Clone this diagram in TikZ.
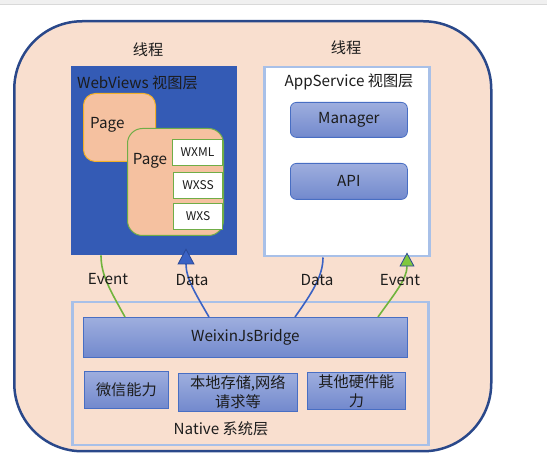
\documentclass[tikz,border=0pt]{standalone}
\usepackage{fontspec}
\setmainfont{Noto Sans CJK SC}
\usetikzlibrary{arrows.meta}
\definecolor{peach}{RGB}{249,223,207}
\definecolor{navyline}{RGB}{42,72,138}
\definecolor{webblue}{RGB}{52,91,181}
\definecolor{pagefill}{RGB}{245,193,160}
\definecolor{pageorange}{RGB}{242,176,40}
\definecolor{pagegreen}{RGB}{112,173,71}
\definecolor{paleblue}{RGB}{168,192,232}
\definecolor{boxtop}{RGB}{158,174,222}
\definecolor{boxbot}{RGB}{114,137,205}
\definecolor{boxline}{RGB}{72,110,195}
\definecolor{linkblue}{RGB}{58,98,196}
\definecolor{linkgreen}{RGB}{112,180,60}
\definecolor{tipgreen}{RGB}{128,200,62}
\definecolor{tipline}{RGB}{42,72,150}
\definecolor{ink}{RGB}{28,28,28}
\tikzset{
 txt/.style={text=ink, inner sep=0, font=\fontsize{15.2}{19}\selectfont},
 small/.style={text=ink, inner sep=0, font=\fontsize{12}{14}\selectfont},
 layer/.style={draw=paleblue, line width=2.5pt, anchor=north west, inner sep=0},
 page/.style={fill=pagefill, line width=1pt, anchor=north west, inner sep=0},
 part/.style={draw=pagegreen, fill=white, line width=1pt, anchor=north west, inner sep=0},
 ability/.style={draw=boxline, line width=0.8pt, top color=boxtop, bottom color=boxbot,
   anchor=north west, inner sep=0, text=ink, align=center, font=\fontsize{15.2}{19}\selectfont},
 link/.style={line width=1.6pt},
}
\begin{document}
\begin{tikzpicture}[x=1pt, y=-1pt]
\useasboundingbox (0,0) rectangle (547,470);
\fill[gray!12] (0,0) rectangle (547,4);
\draw[gray!30] (0,4) -- (547,4);
% outer thread frame
\node[draw=navyline, line width=2.5pt, fill=peach, rounded corners=68pt, anchor=north west,
  minimum width=477pt, minimum height=430pt] (frame) at (13,20) {};
\node[txt] (threadL) at (148,50) {线程};
\node[txt] (threadR) at (346,48) {线程};
% webviews layer
\node[fill=webblue, anchor=north west, minimum width=166pt, minimum height=189pt] (web) at (71,66) {};
\node[txt, anchor=west] (webT) at (77,83) {WebViews 视图层};
\node[page, draw=pageorange, rounded corners=12pt, minimum width=72pt, minimum height=68pt] (pageA) at (83,93) {};
\node[txt, anchor=west] (pageAT) at (90,125) {Page};
\node[page, draw=pagegreen, rounded corners=15pt, minimum width=96pt, minimum height=107pt] (pageB) at (127,128) {};
\node[txt] (pageBT) at (150,161) {Page};
\node[part, minimum width=50pt, minimum height=26pt] (wxml) at (172,139) {};
\node[part, minimum width=49pt, minimum height=26pt] (wxss) at (173,172) {};
\node[part, minimum width=49pt, minimum height=26pt] (wxs) at (173,203) {};
\node[small] at (wxml) {WXML};
\node[small] at (wxss) {WXSS};
\node[small] at (wxs) {WXS};
% appservice layer
\node[layer, fill=white, minimum width=165pt, minimum height=189pt] (app) at (263,66) {};
\node[txt] (appT) at (349,82) {AppService 视图层};
\node[ability, rounded corners=6pt, minimum width=117pt, minimum height=35pt] (manager) at (290,102) {Manager};
\node[ability, rounded corners=6pt, minimum width=117pt, minimum height=36pt] (api) at (290,163) {API};
% native layer
\node[layer, fill=peach, minimum width=356pt, minimum height=143pt] (native) at (71,301) {};
\node[ability, minimum width=324pt, minimum height=40pt] (bridge) at (83,317) {WeixinJsBridge};
\node[ability, minimum width=84pt, minimum height=37pt] (wechat) at (84,371) {微信能力};
\node[ability, minimum width=119pt, minimum height=38pt] (storage) at (178,373) {本地存储,网络\\请求等};
\node[ability, minimum width=98pt, minimum height=37pt] (hardware) at (307,372) {其他硬件能\\力};
\node[txt] (nativeT) at (221,429) {Native 系统层};
% connectors
\draw[link, linkgreen] ([xshift=42pt]bridge.north west) .. controls (110,290) and (101,275) .. ([xshift=30pt]web.south west);
\draw[link, linkblue, -{Triangle[width=17pt, length=16pt, fill=linkblue, color=tipline, line width=0.8pt]}]
  ([xshift=126pt]bridge.north west) .. controls (195,293) and (186,278) .. ([xshift=115pt, yshift=7pt]web.south west);
\draw[link, linkblue] ([xshift=212pt]bridge.north west) .. controls (312,293) and (323,276) .. ([xshift=60pt]app.south west);
\draw[link, linkgreen, -{Triangle[width=15pt, length=14pt, fill=tipgreen, color=tipline, line width=0.8pt]}]
  ([xshift=295pt]bridge.north west) .. controls (395,293) and (407,279) .. ([xshift=144pt, yshift=5pt]app.south west);
\node[txt] (eventL) at (108,279) {Event};
\node[txt] (dataL) at (192,280) {Data};
\node[txt] (dataR) at (317,280) {Data};
\node[txt] (eventR) at (400,280) {Event};
\end{tikzpicture}
\end{document}
